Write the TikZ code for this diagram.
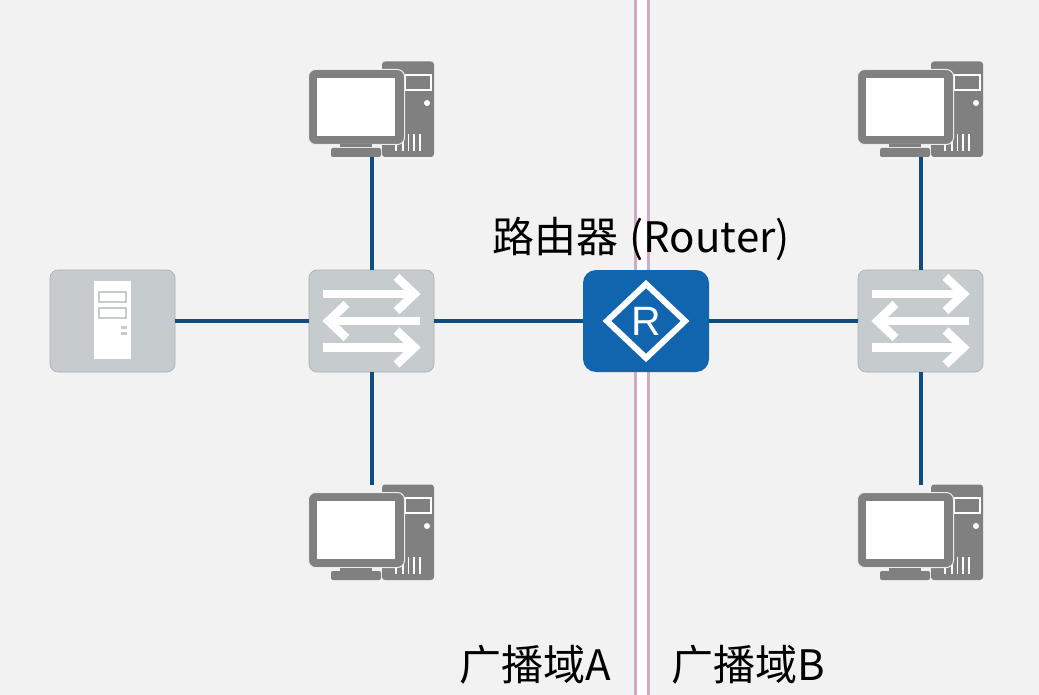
\documentclass[tikz,border=0pt]{standalone}
\usepackage{fontspec}
\usepackage{xcolor}
\setmainfont{Noto Sans CJK SC}
\newfontfamily\letterfont{Liberation Sans}
\definecolor{bgc}{HTML}{F2F2F2}
\definecolor{linkc}{HTML}{0F4C81}
\definecolor{pinkc}{HTML}{D0A9C5}
\definecolor{boxc}{HTML}{C6CCCE}
\definecolor{pcc}{HTML}{808080}
\definecolor{routerc}{HTML}{1164AE}

\begin{document}
\begin{tikzpicture}[
  x=1pt, y=-1pt,
  link/.style={draw=linkc, line width=4pt},
  divider/.style={draw=pinkc, line width=3pt},
  device/.style={
    rectangle, draw=boxc!85!black, line width=.6pt, fill=boxc,
    rounded corners=8pt, inner sep=0pt,
    minimum width=125pt, minimum height=102pt
  },
  pcbox/.style={
    rectangle, inner sep=0pt,
    minimum width=125pt, minimum height=95pt
  },
  routerbox/.style={
    device, draw=none, fill=routerc, rounded corners=13pt,
    minimum width=126pt
  },
  caption/.style={inner sep=0pt, anchor=base, font=\fontsize{42pt}{42pt}\selectfont},
  swarrow/.style={draw=white, line width=8.5pt, miter limit=10},
  pcicon/.pic={
    \fill[pcc, rounded corners=3pt] (10.5,-48) rectangle (62.5,47.5);
    \draw[white, line width=1.2pt] (33.5,-34.5) rectangle (59.5,-19.5);
    \fill[white] (55.5,-6.5) circle (3pt);
    \foreach \vx in {24.5,31.5,37,42.5,48.5} {
      \draw[white, line width=1.3pt] (\vx,24.5)--(\vx,41.5);
    }
    \filldraw[draw=white!85!pcc, fill=pcc, line width=1pt, rounded corners=7pt]
      (-63,-40) rectangle (33,35);
    \fill[white] (-54.5,-31.5) rectangle (23.5,26.5);
    \fill[pcc] (-31.5,35) rectangle (0.5,38);
    \fill[pcc, rounded corners=2pt] (-40.5,47.5)--(-40.5,38.5)--(9.5,38.5)--(9.5,47.5)--cycle;
  },
  swicon/.pic={
    \draw[swarrow] (-48.5,-27)--(43,-27);
    \draw[swarrow] (25,-44)--(43,-27)--(25,-10);
    \draw[swarrow] (48.5,0)--(-43,0);
    \draw[swarrow] (-25,-17)--(-43,0)--(-25,17);
    \draw[swarrow] (-48.5,26.5)--(43,26.5);
    \draw[swarrow] (25,9.5)--(43,26.5)--(25,43.5);
  },
  servericon/.pic={
    \fill[white] (-18.5,-40) rectangle (18.5,38);
    \foreach \sy in {-29,-13} {
      \draw[boxc, line width=2.4pt, fill=white] (-13.5,\sy) rectangle (13.5,\sy+10);
    }
    \fill[boxc] (8.5,5) rectangle (14.5,8);
    \fill[boxc] (8.5,11) rectangle (14.5,14);
  }
]
  \useasboundingbox (0,0) rectangle (1039,695);
  \fill[bgc] (0,0) rectangle (1039,695);
  \fill[white] (635,0) rectangle (648.5,695);

  \coordinate (topA) at (635.2,0);
  \coordinate (botA) at (635.2,695);
  \coordinate (topB) at (648.5,0);
  \coordinate (botB) at (648.5,695);
  \draw[divider] (topA)--(botA);
  \draw[divider] (topB)--(botB);

  \node[device] (server) at (112.5,321){};
  \pic at (server.center) {servericon};
  \foreach \x/\name in {371.5/swL,920.5/swR} {
    \node[device] (\name) at (\x,321){};
    \pic at (\name.center) {swicon};
  }
  \foreach \x/\y/\name in {371.5/109.5/pcLtop,371.5/532.5/pcLbot,920.5/109.5/pcRtop,920.5/532.5/pcRbot} {
    \node[pcbox] (\name) at (\x,\y){};
    \pic at (\name.center) {pcicon};
  }
  \node[routerbox] (router) at (646,321){};
  \draw[white, line width=6pt, miter limit=10]
    (router.center) ++(-39,0)--++(39,-37)--++(39,37)--++(-39,37)--cycle;
  \node[inner sep=0pt, text=white] (routerR) at (646,321.5){\fontsize{41pt}{41pt}\selectfont\letterfont R};

  \draw[link] (server)--(swL);
  \draw[link] (swL)--(router);
  \draw[link] (router)--(swR);
  \draw[link] (swL)--(pcLtop);
  \draw[link] (swL)--(pcLbot);
  \draw[link] (swR)--(pcRtop);
  \draw[link] (swR)--(pcRbot);

  \node[caption] (routerlabel) at (641,252){路由器\hspace{2pt} (Router)};
  \node[caption] (domainA) at (535,680){广播域A};
  \node[caption] (domainB) at (748.5,680){广播域B};
\end{tikzpicture}
\end{document}
